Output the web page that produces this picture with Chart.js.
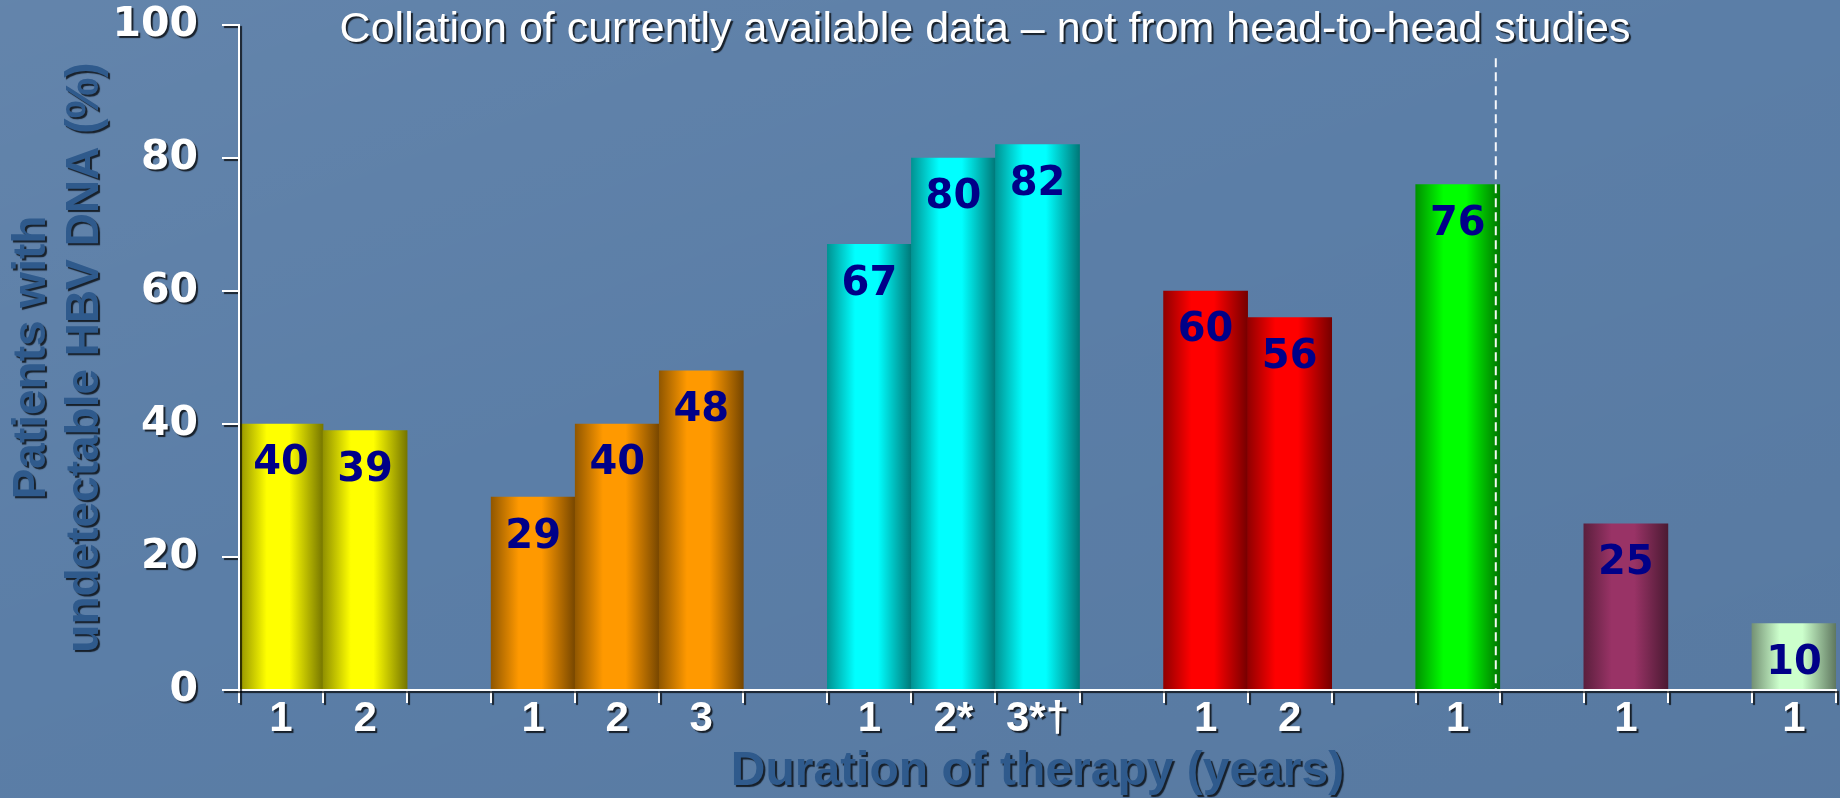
<!DOCTYPE html>
<html>
<head>
<meta charset="utf-8">
<script src="https://cdn.jsdelivr.net/npm/chart.js@4.4.0/dist/chart.umd.min.js"></script>
<style>
  html, body { margin: 0; padding: 0; }
  body {
    width: 1840px; height: 798px; overflow: hidden;
    background-color: #5b7ea7;
    background-image:
      linear-gradient(160deg, rgba(255,255,255,0.05) 0%, rgba(255,255,255,0) 45%, rgba(0,0,0,0.04) 100%);
  }
  #wrap { position: relative; width: 1840px; height: 798px; }
</style>
</head>
<body>
<div id="wrap"><canvas id="chart"></canvas></div>
<script>
// Years on therapy and % of patients with undetectable HBV DNA, one pair per treatment group
const yearsA = ['1', '2'];          const pctA = [40, 39];
const yearsB = ['1', '2', '3'];     const pctB = [29, 40, 48];
const yearsC = ['1', '2*', '3*†'];  const pctC = [67, 80, 82];
const yearsD = ['1', '2'];          const pctD = [60, 56];
const yearsE = ['1'];               const pctE = [76];
const yearsF = ['1'];               const pctF = [25];
const yearsG = ['1'];               const pctG = [10];

const yTickValues = [0, 20, 40, 60, 80, 100];

const chartTitle = 'Collation of currently available data \u2013 not from head-to-head studies';
const xTitle = 'Duration of therapy (years)';
const yTitle = ['Patients with', 'undetectable HBV DNA (%)'];

// Bar shading per group: bright centre, dark edges
const palette = [
  { hi: '#ffff00', lo: '#767600' },
  { hi: '#ff9900', lo: '#764600' },
  { hi: '#00ffff', lo: '#007878' },
  { hi: '#ff0000', lo: '#760000' },
  { hi: '#00ff00', lo: '#007600' },
  { hi: '#993366', lo: '#4c1a33' },
  { hi: '#ccffcc', lo: '#5f775f' }
];

// Lay the groups out along one category axis with an empty slot between groups
const groups = [[yearsA, pctA], [yearsB, pctB], [yearsC, pctC], [yearsD, pctD],
                [yearsE, pctE], [yearsF, pctF], [yearsG, pctG]];
const labels = [], values = [], slotGroup = [];
groups.forEach(([yrs, pct], g) => {
  if (g > 0) { labels.push(''); values.push(null); slotGroup.push(-1); }
  yrs.forEach((y, k) => { labels.push(y); values.push(pct[k]); slotGroup.push(g); });
});
// dashed divider follows the fifth group
const dividerAfter = slotGroup.lastIndexOf(4);

function hexToRgb(h) {
  const n = parseInt(h.slice(1), 16);
  return [(n >> 16) & 255, (n >> 8) & 255, n & 255];
}
function mix(a, b, t) {
  const A = hexToRgb(a), B = hexToRgb(b);
  return 'rgb(' + A.map((v, i) => Math.round(v + (B[i] - v) * t)).join(',') + ')';
}

function barFill(context) {
  const g = slotGroup[context.dataIndex];
  const col = palette[g] || palette[0];
  const chart = context.chart;
  const xs = chart.scales && chart.scales.x;
  if (context.type !== 'data' || !chart.chartArea || !xs) return col.hi;
  const half = xs.width / labels.length / 2;
  const cx = xs.getPixelForValue(context.dataIndex);
  const grad = chart.ctx.createLinearGradient(cx - half, 0, cx + half, 0);
  grad.addColorStop(0, mix(col.lo, col.hi, 0.2));
  grad.addColorStop(0.33, col.hi);
  grad.addColorStop(0.6, col.hi);
  grad.addColorStop(1, col.lo);
  return grad;
}

const overlay = {
  id: 'overlay',
  beforeDraw(chart) {
    const ctx = chart.ctx;
    ctx.shadowColor = 'rgba(0,0,0,0)';
    ctx.shadowOffsetX = 0; ctx.shadowOffsetY = 0; ctx.shadowBlur = 0;
  },
  afterDatasetsDraw(chart) {
    const { ctx } = chart;
    const xs = chart.scales.x, ys = chart.scales.y;
    const meta = chart.getDatasetMeta(0);

    ctx.save();
    // values printed inside the top of each bar
    ctx.font = 'bold 40px "DejaVu Sans", sans-serif';
    ctx.fillStyle = '#000088';
    ctx.textAlign = 'center';
    ctx.textBaseline = 'middle';
    meta.data.forEach((bar, i) => {
      const v = values[i];
      if (v === null || v === undefined) return;
      ctx.fillText(String(v), bar.x, bar.y + 40);
    });

    // dashed divider
    const slot = xs.width / labels.length;
    const dx = xs.getPixelForValue(dividerAfter) + slot / 2 - 4;
    ctx.strokeStyle = 'rgba(255,255,255,0.95)';
    ctx.lineWidth = 2;
    ctx.setLineDash([9, 5]);
    ctx.beginPath();
    ctx.moveTo(dx, ys.getPixelForValue(95));
    ctx.lineTo(dx, ys.getPixelForValue(0));
    ctx.stroke();
    ctx.restore();

    // drop shadow for the heading and everything the axes draw next
    ctx.shadowColor = 'rgba(0,0,0,0.75)';
    ctx.shadowOffsetX = 2; ctx.shadowOffsetY = 2; ctx.shadowBlur = 1;

    ctx.save();
    ctx.font = '43px "Liberation Sans", Arial, sans-serif';
    ctx.fillStyle = '#ffffff';
    ctx.textAlign = 'center';
    ctx.textBaseline = 'alphabetic';
    ctx.fillText(chartTitle, 985, 42);
    ctx.restore();
  },
  afterDraw(chart) {
    const ctx = chart.ctx;
    ctx.shadowColor = 'rgba(0,0,0,0)';
    ctx.shadowOffsetX = 0; ctx.shadowOffsetY = 0; ctx.shadowBlur = 0;
  }
};

new Chart(document.getElementById('chart'), {
  type: 'bar',
  data: {
    labels: labels,
    datasets: [{
      data: values,
      backgroundColor: barFill,
      borderWidth: 0,
      barPercentage: 1,
      categoryPercentage: 1
    }]
  },
  options: {
    responsive: true,
    maintainAspectRatio: false,
    animation: false,
    events: [],
    layout: { padding: { top: 25, right: 4, bottom: 0, left: 0 } },
    plugins: { legend: { display: false }, tooltip: { enabled: false }, title: { display: false } },
    scales: {
      x: {
        type: 'category',
        offset: true,
        grid: { offset: true, drawOnChartArea: false, drawTicks: true, tickLength: 13, color: '#ffffff', lineWidth: 2, z: 1 },
        border: { color: '#ffffff', width: 2, z: 1 },
        ticks: {
          color: '#ffffff', autoSkip: false, maxRotation: 0, minRotation: 0, padding: 0, z: 1,
          font: { family: '"Liberation Sans", Arial, sans-serif', size: 42, weight: 'bold', lineHeight: 0.8 }
        },
        title: {
          display: true, text: xTitle, color: '#2f5a8c',
          font: { family: '"Liberation Sans", Arial, sans-serif', size: 48, weight: 'bold', lineHeight: 1.0 },
          padding: { top: 0, bottom: 2 }
        },
        afterFit: (s) => { s.height = 108; s.paddingLeft = 0; s.paddingRight = 0; }
      },
      y: {
        min: 0, max: 100,
        afterBuildTicks: (s) => { s.ticks = yTickValues.map(v => ({ value: v })); },
        grid: { drawOnChartArea: false, drawTicks: true, tickLength: 17, color: '#ffffff', lineWidth: 2, z: 1 },
        border: { color: '#ffffff', width: 2, z: 1 },
        ticks: {
          color: '#ffffff', padding: 24, z: 1,
          font: { family: '"DejaVu Sans", sans-serif', size: 41, weight: 'bold', lineHeight: 1.0 }
        },
        title: {
          display: true, text: yTitle, color: '#2f5a8c',
          font: { family: '"Liberation Sans", Arial, sans-serif', size: 46, weight: 'bold', lineHeight: 1.15 },
          padding: { top: 6, bottom: 0 }
        },
        afterFit: (s) => { s.width = 239; s.paddingTop = 0; s.paddingBottom = 0; }
      }
    }
  },
  plugins: [overlay]
});
</script>
</body>
</html>
